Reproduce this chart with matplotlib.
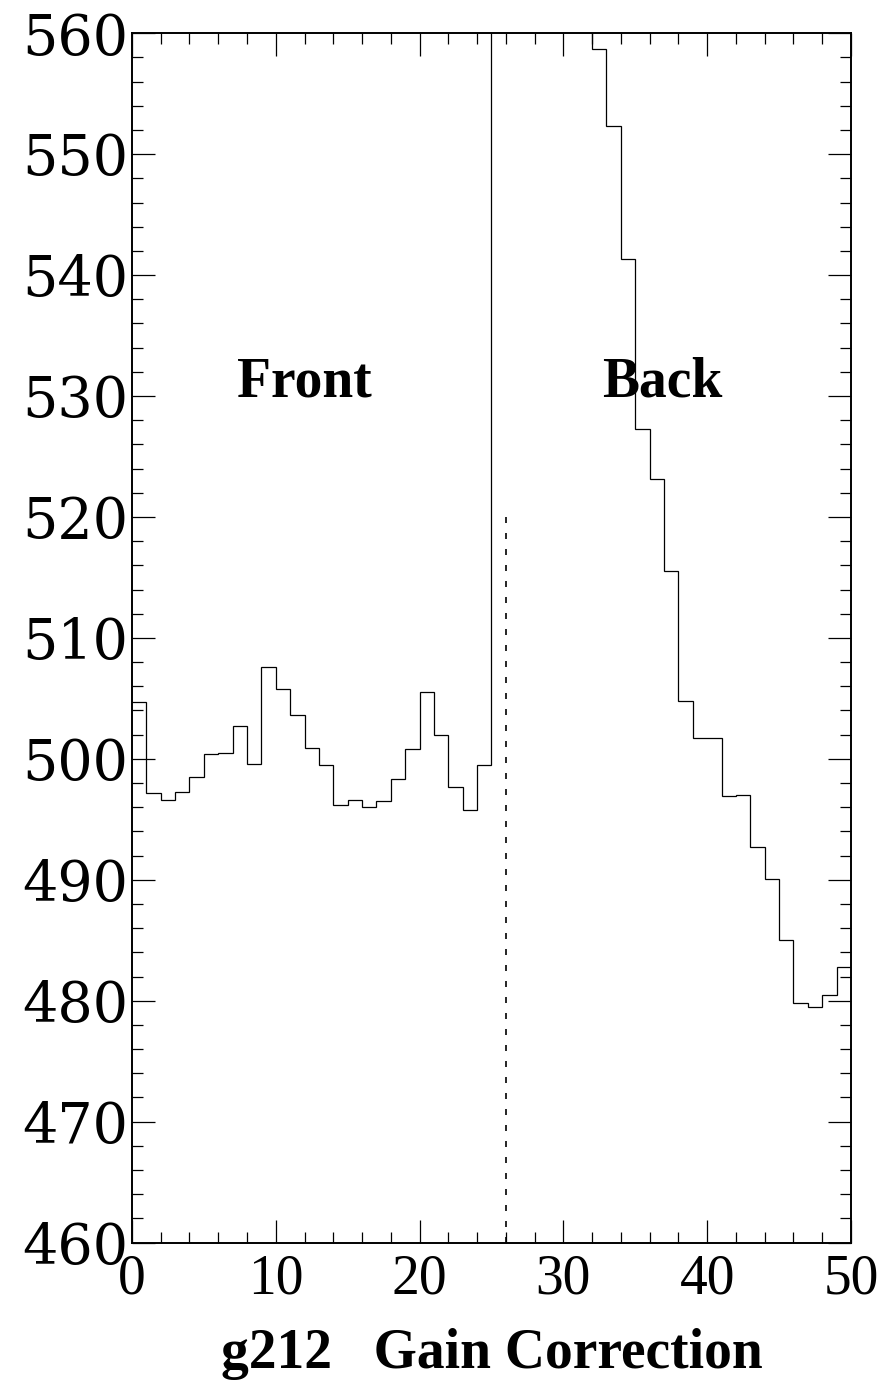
"""
plot.py
=======
Histogram g212 (Gain Correction), Front / Back channels.

Output:
  - out.png
"""

import numpy as np
import matplotlib
matplotlib.use("Agg")
import matplotlib.pyplot as plt
from matplotlib.ticker import MultipleLocator

# --- data (50 bins, 0..50) ---------------------------------------------
N_BINS = 50
X_LO, X_HI = 0, 50

# bins 0-24: front channels
front_counts = [504.7, 497.2, 496.6, 497.3, 498.5, 500.4, 500.5, 502.7, 499.6, 507.6,
                505.8, 503.6, 500.9, 499.5, 496.2, 496.6, 496.0, 496.5, 498.3, 500.8,
                505.5, 502.0, 497.7, 495.8, 499.5]
# bins 25-31: off scale (above 560, not readable)
offscale_counts = [600, 600, 600, 600, 600, 600, 600]
# bins 32-49: back channels
back_counts = [558.7, 552.3, 541.3, 527.3, 523.1, 515.5, 504.8, 501.7, 501.75, 496.9,
               497.0, 492.75, 490.1, 485.0, 479.85, 479.5, 480.5, 482.8]

divider_x = 26
divider_top = 520
labels = ["Front", "Back"]
label_x = [12.0, 36.9]
label_y = 530
xlabel = "g212   Gain Correction"

Y_LO, Y_HI = 460, 560

plt.rcParams["font.family"] = ["Liberation Serif", "DejaVu Serif"]


def main():
    counts = np.array(front_counts + offscale_counts + back_counts, dtype=float)
    edges = np.linspace(X_LO, X_HI, N_BINS + 1)

    fig = plt.figure(figsize=(8.84, 13.83), dpi=100)
    ax = fig.add_axes([0.1493, 0.1015, 0.8133, 0.8745])

    ax.stairs(counts, edges, color="black", linewidth=0.9, baseline=None)
    ax.plot([divider_x, divider_x], [Y_LO, divider_top], color="black",
            linewidth=1.2, linestyle=(0, (3.6, 6.0)))

    for txt, x in zip(labels, label_x):
        ax.text(x, label_y, txt, ha="center", va="baseline",
                fontsize=40, fontweight="bold")

    ax.set_xlim(X_LO, X_HI); ax.set_ylim(Y_LO, Y_HI)
    ax.xaxis.set_major_locator(MultipleLocator(10))
    ax.xaxis.set_minor_locator(MultipleLocator(2))
    ax.yaxis.set_major_locator(MultipleLocator(10))
    ax.yaxis.set_minor_locator(MultipleLocator(2))
    ax.tick_params(which="both", direction="in", top=True, right=True,
                   width=0.9, labelsize=40)
    ax.tick_params(which="major", length=16.5)
    ax.tick_params(which="minor", length=8)
    ax.tick_params(axis="x", pad=8)
    ax.tick_params(axis="y", pad=3)
    # y labels are wider in the original -> wider serif face
    for lab in ax.get_yticklabels():
        lab.set_family(["DejaVu Serif"]); lab.set_fontsize(40)
    for sp in ax.spines.values():
        sp.set_linewidth(1.4)

    ax.set_xlabel(xlabel, fontsize=40, fontweight="bold", labelpad=16)

    fig.savefig("out.png", dpi=100)
    plt.close(fig)


if __name__ == "__main__":
    main()
